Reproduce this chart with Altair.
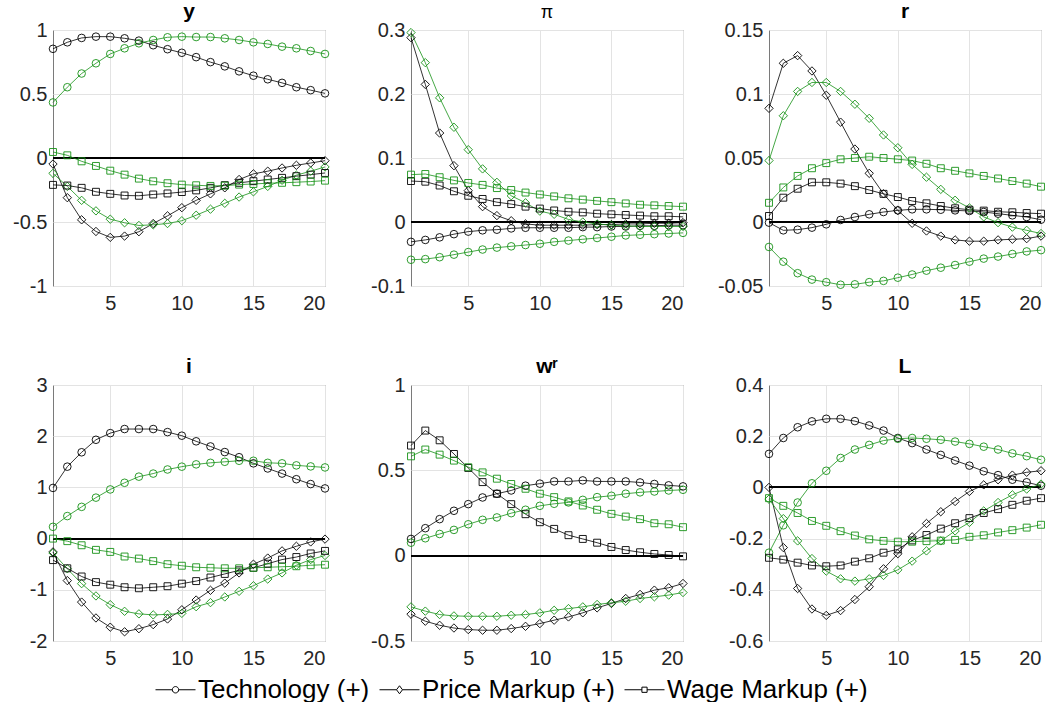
import altair as alt
import pandas as pd

# Impulse responses over 20 quarters, two model variants (black / green)
periods = list(range(1, 21))
shocks = ["Technology (+)", "Price Markup (+)", "Wage Markup (+)"]
models = ["baseline", "alternative"]
model_colors = ["#000000", "#169216"]
marker_shapes = ["circle", "diamond", "square"]
marker_sizes = [58, 70, 48]

# Output y
y_tech_a = [0.853, 0.904, 0.938, 0.948, 0.948, 0.935, 0.917, 0.881, 0.850, 0.822, 0.788, 0.749, 0.716, 0.677, 0.643, 0.615, 0.587, 0.553, 0.530, 0.505]
y_tech_b = [0.434, 0.553, 0.660, 0.740, 0.813, 0.857, 0.896, 0.922, 0.943, 0.948, 0.945, 0.945, 0.935, 0.922, 0.904, 0.891, 0.870, 0.857, 0.836, 0.813]
y_price_a = [-0.047, -0.310, -0.483, -0.574, -0.620, -0.610, -0.576, -0.512, -0.452, -0.388, -0.331, -0.280, -0.233, -0.168, -0.124, -0.103, -0.078, -0.057, -0.039, -0.021]
y_price_b = [-0.120, -0.222, -0.331, -0.413, -0.478, -0.506, -0.527, -0.522, -0.512, -0.490, -0.447, -0.400, -0.354, -0.305, -0.264, -0.222, -0.174, -0.134, -0.103, -0.070]
y_wage_a = [-0.210, -0.215, -0.233, -0.264, -0.280, -0.293, -0.295, -0.285, -0.277, -0.266, -0.253, -0.233, -0.212, -0.194, -0.181, -0.168, -0.155, -0.142, -0.130, -0.117]
y_wage_b = [0.047, 0.021, -0.026, -0.062, -0.099, -0.130, -0.161, -0.182, -0.197, -0.208, -0.213, -0.218, -0.216, -0.208, -0.203, -0.197, -0.194, -0.189, -0.184, -0.177]

# Inflation pi
pi_tech_a = [-0.031, -0.028, -0.024, -0.019, -0.015, -0.013, -0.012, -0.010, -0.009, -0.009, -0.009, -0.009, -0.008, -0.008, -0.007, -0.007, -0.006, -0.006, -0.005, -0.005]
pi_tech_b = [-0.059, -0.058, -0.055, -0.051, -0.047, -0.043, -0.040, -0.038, -0.036, -0.034, -0.031, -0.029, -0.027, -0.025, -0.023, -0.021, -0.020, -0.019, -0.018, -0.017]
pi_price_a = [0.288, 0.215, 0.139, 0.088, 0.049, 0.024, 0.010, 0.002, -0.003, -0.005, -0.005, -0.005, -0.005, -0.004, -0.004, -0.003, -0.003, -0.002, -0.002, -0.001]
pi_price_b = [0.296, 0.249, 0.194, 0.148, 0.113, 0.083, 0.062, 0.041, 0.030, 0.017, 0.012, 0.004, 0.000, -0.003, -0.005, -0.006, -0.007, -0.007, -0.007, -0.007]
pi_wage_a = [0.064, 0.063, 0.057, 0.048, 0.041, 0.036, 0.031, 0.028, 0.024, 0.021, 0.018, 0.016, 0.015, 0.013, 0.012, 0.011, 0.010, 0.009, 0.009, 0.008]
pi_wage_b = [0.074, 0.075, 0.070, 0.065, 0.061, 0.058, 0.053, 0.050, 0.046, 0.043, 0.040, 0.037, 0.035, 0.033, 0.031, 0.029, 0.027, 0.026, 0.025, 0.024]

# Interest rate r
r_tech_a = [-0.0005, -0.0065, -0.006, -0.0044, -0.0018, 0.0016, 0.0039, 0.006, 0.0078, 0.0091, 0.0099, 0.0099, 0.0096, 0.0091, 0.0086, 0.0078, 0.0065, 0.0052, 0.0039, 0.0018]
r_tech_b = [-0.0195, -0.031, -0.040, -0.045, -0.047, -0.049, -0.0487, -0.047, -0.046, -0.0435, -0.041, -0.038, -0.0357, -0.0336, -0.031, -0.0286, -0.027, -0.025, -0.023, -0.022]
r_price_a = [0.0888, 0.124, 0.130, 0.118, 0.099, 0.078, 0.057, 0.038, 0.022, 0.009, -0.001, -0.007, -0.011, -0.014, -0.015, -0.015, -0.014, -0.0135, -0.013, -0.011]
r_price_b = [0.048, 0.083, 0.102, 0.109, 0.109, 0.102, 0.092, 0.081, 0.068, 0.058, 0.045, 0.035, 0.0255, 0.017, 0.011, 0.004, -0.0005, -0.004, -0.0065, -0.009]
r_wage_a = [0.0047, 0.019, 0.026, 0.031, 0.031, 0.030, 0.028, 0.025, 0.022, 0.0195, 0.0164, 0.0146, 0.0125, 0.0107, 0.0096, 0.0089, 0.008, 0.0076, 0.007, 0.0065]
r_wage_b = [0.015, 0.027, 0.036, 0.042, 0.046, 0.049, 0.050, 0.051, 0.050, 0.049, 0.048, 0.0455, 0.042, 0.040, 0.038, 0.036, 0.034, 0.032, 0.030, 0.0276]

# Investment i
i_tech_a = [0.99, 1.405, 1.686, 1.93, 2.06, 2.14, 2.14, 2.14, 2.08, 2.01, 1.90, 1.80, 1.69, 1.59, 1.47, 1.37, 1.27, 1.16, 1.065, 0.98]
i_tech_b = [0.23, 0.44, 0.62, 0.80, 0.96, 1.09, 1.21, 1.27, 1.35, 1.405, 1.45, 1.48, 1.50, 1.52, 1.52, 1.48, 1.47, 1.43, 1.41, 1.39]
i_price_a = [-0.26, -0.82, -1.24, -1.55, -1.73, -1.82, -1.76, -1.68, -1.57, -1.39, -1.20, -1.01, -0.87, -0.67, -0.50, -0.38, -0.24, -0.15, -0.065, -0.01]
i_price_b = [-0.28, -0.59, -0.88, -1.12, -1.29, -1.42, -1.47, -1.49, -1.48, -1.46, -1.33, -1.25, -1.14, -1.03, -0.92, -0.79, -0.67, -0.52, -0.41, -0.33]
i_wage_a = [-0.42, -0.58, -0.74, -0.85, -0.90, -0.95, -0.97, -0.95, -0.93, -0.88, -0.83, -0.76, -0.69, -0.62, -0.57, -0.49, -0.41, -0.36, -0.29, -0.24]
i_wage_b = [0.00, -0.05, -0.13, -0.22, -0.26, -0.35, -0.39, -0.44, -0.50, -0.53, -0.56, -0.57, -0.58, -0.58, -0.57, -0.56, -0.55, -0.54, -0.52, -0.51]

# Real wage w^r
w_tech_a = [0.098, 0.161, 0.214, 0.263, 0.302, 0.341, 0.363, 0.382, 0.410, 0.422, 0.435, 0.435, 0.441, 0.435, 0.435, 0.435, 0.429, 0.420, 0.412, 0.406]
w_tech_b = [0.076, 0.102, 0.127, 0.151, 0.184, 0.210, 0.224, 0.249, 0.269, 0.292, 0.304, 0.312, 0.327, 0.343, 0.351, 0.363, 0.371, 0.376, 0.382, 0.386]
w_price_a = [-0.343, -0.384, -0.408, -0.424, -0.433, -0.437, -0.437, -0.427, -0.414, -0.398, -0.378, -0.359, -0.335, -0.306, -0.280, -0.251, -0.227, -0.202, -0.188, -0.163]
w_price_b = [-0.300, -0.325, -0.345, -0.353, -0.355, -0.355, -0.355, -0.349, -0.345, -0.335, -0.320, -0.310, -0.300, -0.286, -0.276, -0.267, -0.251, -0.241, -0.231, -0.216]
w_wage_a = [0.645, 0.733, 0.676, 0.596, 0.514, 0.431, 0.363, 0.302, 0.243, 0.196, 0.157, 0.120, 0.098, 0.076, 0.051, 0.033, 0.020, 0.010, 0.004, -0.004]
w_wage_b = [0.582, 0.622, 0.592, 0.557, 0.518, 0.488, 0.451, 0.420, 0.392, 0.363, 0.343, 0.318, 0.294, 0.269, 0.245, 0.229, 0.214, 0.190, 0.184, 0.167]

# Labour L
L_tech_a = [0.131, 0.193, 0.235, 0.258, 0.268, 0.268, 0.259, 0.242, 0.222, 0.193, 0.173, 0.148, 0.127, 0.105, 0.085, 0.063, 0.048, 0.030, 0.020, 0.0065]
L_tech_b = [-0.255, -0.148, -0.059, 0.016, 0.065, 0.115, 0.148, 0.166, 0.183, 0.190, 0.193, 0.190, 0.186, 0.179, 0.170, 0.159, 0.148, 0.133, 0.122, 0.108]
L_price_a = [0.000, -0.235, -0.395, -0.475, -0.500, -0.481, -0.438, -0.388, -0.318, -0.259, -0.193, -0.141, -0.095, -0.055, -0.016, 0.010, 0.030, 0.048, 0.059, 0.065]
L_price_b = [-0.046, -0.122, -0.209, -0.278, -0.327, -0.357, -0.366, -0.357, -0.344, -0.322, -0.288, -0.248, -0.209, -0.170, -0.137, -0.092, -0.059, -0.029, -0.0065, 0.013]
L_wage_a = [-0.275, -0.282, -0.294, -0.305, -0.308, -0.305, -0.290, -0.277, -0.255, -0.242, -0.207, -0.186, -0.161, -0.140, -0.120, -0.100, -0.085, -0.068, -0.052, -0.042]
L_wage_b = [-0.042, -0.072, -0.100, -0.131, -0.150, -0.171, -0.188, -0.203, -0.209, -0.212, -0.212, -0.210, -0.208, -0.205, -0.193, -0.187, -0.176, -0.167, -0.157, -0.146]

panels = [
    ("y", "bold", [-1, 1], [-1, -0.5, 0, 0.5, 1],
     [[y_tech_a, y_tech_b], [y_price_a, y_price_b], [y_wage_a, y_wage_b]]),
    ("π", "normal", [-0.1, 0.3], [-0.1, 0, 0.1, 0.2, 0.3],
     [[pi_tech_a, pi_tech_b], [pi_price_a, pi_price_b], [pi_wage_a, pi_wage_b]]),
    ("r", "bold", [-0.05, 0.15], [-0.05, 0, 0.05, 0.1, 0.15],
     [[r_tech_a, r_tech_b], [r_price_a, r_price_b], [r_wage_a, r_wage_b]]),
    ("i", "bold", [-2, 3], [-2, -1, 0, 1, 2, 3],
     [[i_tech_a, i_tech_b], [i_price_a, i_price_b], [i_wage_a, i_wage_b]]),
    ("wʳ", "bold", [-0.5, 1], [-0.5, 0, 0.5, 1],
     [[w_tech_a, w_tech_b], [w_price_a, w_price_b], [w_wage_a, w_wage_b]]),
    ("L", "bold", [-0.6, 0.4], [-0.6, -0.4, -0.2, 0, 0.2, 0.4],
     [[L_tech_a, L_tech_b], [L_price_a, L_price_b], [L_wage_a, L_wage_b]]),
]

# Legend keys: a short line with the marker in its middle (unit-square paths)
legend_paths = [
    "M-1,0H-0.16M0.16,0H1M0.16,0A0.16,0.16,0,1,1,-0.16,0A0.16,0.16,0,1,1,0.16,0",
    "M-1,0H-0.15M0.15,0H1M-0.15,0L0,-0.2L0.15,0L0,0.2Z",
    "M-1,0H-0.13M0.13,0H1M-0.13,-0.13H0.13V0.13H-0.13Z",
]

FONT = "Liberation Sans"
PANEL_W, PANEL_H = 272, 256


def panel_chart(title, weight, domain, ticks, series, with_legend=False):
    rows = []
    for shock, pair in zip(shocks, series):
        for model, values in zip(models, pair):
            for p, v in zip(periods, values):
                rows.append({"period": p, "value": v, "shock": shock, "model": model})
    df = pd.DataFrame(rows)

    x = alt.X("period:Q", scale=alt.Scale(domain=[1, 20], nice=False, zero=False),
              axis=alt.Axis(values=[5, 10, 15, 20], title=None, labelPadding=7))
    y = alt.Y("value:Q", scale=alt.Scale(domain=domain, nice=False, zero=False),
              axis=alt.Axis(values=ticks, title=None, labelPadding=6,
                            labelExpr="toString(datum.value)"))
    color = alt.Color("model:N", scale=alt.Scale(domain=models, range=model_colors), legend=None)

    base = alt.Chart(df)
    zero = alt.Chart(df).mark_rule(color="black", strokeWidth=0.7).encode(y=alt.datum(0))
    lines = base.mark_line(strokeWidth=0.8).encode(x=x, y=y, color=color, detail="shock:N")
    layers = [zero, lines]
    for shock, shape, size in zip(shocks, marker_shapes, marker_sizes):
        layers.append(
            base.transform_filter(alt.datum.shock == shock)
            .mark_point(shape=shape, filled=False, size=size, strokeWidth=0.9, opacity=1)
            .encode(x=x, y=y, color=color)
        )
    if with_legend:
        keys = pd.DataFrame({"shock": shocks})
        layers.append(
            alt.Chart(keys).transform_filter("false")
            .mark_point(filled=False, color="black", strokeWidth=1, opacity=1)
            .encode(shape=alt.Shape(
                "shock:N",
                scale=alt.Scale(domain=shocks, range=legend_paths),
                legend=alt.Legend(
                    title=None, orient="none", direction="horizontal",
                    legendX=102, legendY=639,
                    labelFont=FONT, labelFontSize=26, labelColor="black",
                    labelLimit=0,
                    symbolSize=1600, symbolStrokeWidth=1,
                    symbolStrokeColor="black", symbolFillColor="transparent",
                    labelOffset=2, columnPadding=7, padding=0,
                ),
            ))
        )
    return alt.layer(*layers).properties(
        width=PANEL_W, height=PANEL_H,
        title=alt.TitleParams(title, font=FONT, fontSize=21 if weight == "bold" else 18,
                              fontWeight=weight, color="black", offset=-2),
    )


charts = [panel_chart(t, w, d, tk, s, with_legend=(k == 3))
          for k, (t, w, d, tk, s) in enumerate(panels)]

chart = (
    alt.concat(*charts, columns=3, spacing={"row": 99, "column": 86}, bounds="flush")
    .properties(padding={"left": 12, "top": 0, "right": 5, "bottom": 0},
                background="white")
    .configure_view(stroke="#7a7a7a", strokeWidth=1)
    .configure_axis(labelFont=FONT, labelFontSize=20, labelColor="#262626",
                    domain=False, ticks=False, grid=True,
                    gridColor="#e3e3e3", gridWidth=1)
)

chart.save("out.html", embed_options={"renderer": "svg", "actions": False})
